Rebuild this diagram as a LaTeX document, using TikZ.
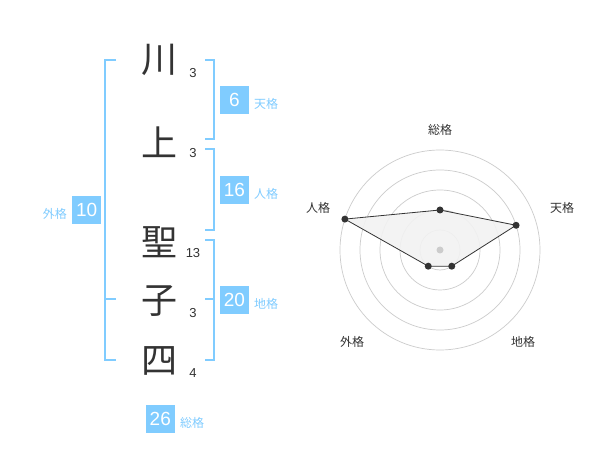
\documentclass[tikz,border=0pt]{standalone}
\usepackage{fontspec}
\setmainfont{Liberation Sans}
\newfontfamily\cjk{Noto Sans CJK JP}
\definecolor{kblue}{HTML}{80CCFF}
\definecolor{ktxt}{HTML}{333333}
\definecolor{kgrid}{HTML}{CCCCCC}
\begin{document}
\begin{tikzpicture}[x=1pt,y=-1pt,
  kanji/.style={font=\cjk\fontsize{36}{36}\selectfont,text=ktxt,inner sep=0pt},
  strokes/.style={font=\fontsize{13}{13}\selectfont,text=ktxt,inner sep=0pt},
  numbox/.style={fill=kblue,text=white,font=\fontsize{19}{19}\selectfont,minimum width=28.5pt,minimum height=28.5pt,inner sep=0pt},
  kaku/.style={font=\cjk\fontsize{12}{12}\selectfont,text=kblue,inner sep=0pt},
  brk/.style={draw=kblue,line width=2pt},
  ring/.style={draw=kgrid,line width=0.7pt},
  rlabel/.style={font=\cjk\fontsize{12}{12}\selectfont,text=ktxt,inner sep=0pt},
  vdot/.style={circle,fill=ktxt,inner sep=0pt,minimum size=7pt}]
\useasboundingbox[fill=white] (0,0) rectangle (600,470);
% kanji
\node[kanji] (k1) at (159,60) {川};
\node[kanji] (k2) at (159,142) {上};
\node[kanji] (k3) at (159,242) {聖};
\node[kanji] (k4) at (159,301) {子};
\node[kanji] (k5) at (159,361) {四};
\node[strokes] (s1) at (193,73) {3};
\node[strokes] (s2) at (193,153) {3};
\node[strokes] (s3) at (193,253) {13};
\node[strokes] (s4) at (193,313) {3};
\node[strokes] (s5) at (193,373) {4};
% brackets
\draw[brk] (205,60) -- (214,60) -- (214,139) -- (205,139);
\draw[brk] (205,149.5) -- (214,149.5) -- (214,230) -- (205,230);
\draw[brk] (205,240) -- (214,240) -- (214,360) -- (205,360);
\draw[brk] (205,299.5) -- (214,299.5);
\draw[brk] (116,60) -- (105,60) -- (105,360) -- (116,360);
\draw[brk] (105,299.5) -- (116,299.5);
% boxes
\node[numbox] (b1) at (234.5,100) {6};
\node[kaku,anchor=west] (l1) at (254,104) {天格};
\node[numbox] (b2) at (234.5,190) {16};
\node[kaku,anchor=west] (l2) at (254,194) {人格};
\node[numbox] (b3) at (234.5,300) {20};
\node[kaku,anchor=west] (l3) at (254,304) {地格};
\node[numbox] (b4) at (86.7,210) {10};
\node[kaku,anchor=east] (l4) at (67,213.5) {外格};
\node[numbox] (b5) at (160.3,419) {26};
\node[kaku,anchor=west] (l5) at (180,422.5) {総格};
% radar
\coordinate (c) at (440,250);
\foreach \r in {20,40,60,80,100} \draw[ring] (c) circle[radius=\r];
\path (c) ++(0,-40) coordinate (p1)
      (c) ++(80*0.951,-80*0.309) coordinate (p2)
      (c) ++(20*0.588,20*0.809) coordinate (p3)
      (c) ++(-20*0.588,20*0.809) coordinate (p4)
      (c) ++(-100*0.951,-100*0.309) coordinate (p5);
\fill[black!5,fill opacity=0.9] (p1) -- (p2) -- (p3) -- (p4) -- (p5) -- cycle;
\draw[ktxt,line width=0.8pt] (p1) -- (p2) -- (p3) -- (p4) -- (p5) -- cycle;
\node[circle,fill=kgrid,inner sep=0pt,minimum size=7pt] (cd) at (c) {};
\foreach \p in {p1,p2,p3,p4,p5} \node[vdot] at (\p) {};
\node[rlabel] (r1) at (440,130) {総格};
\node[rlabel] (r2) at (562,208) {天格};
\node[rlabel] (r3) at (523,342) {地格};
\node[rlabel] (r4) at (352,342) {外格};
\node[rlabel] (r5) at (318,208) {人格};
\end{tikzpicture}
\end{document}
